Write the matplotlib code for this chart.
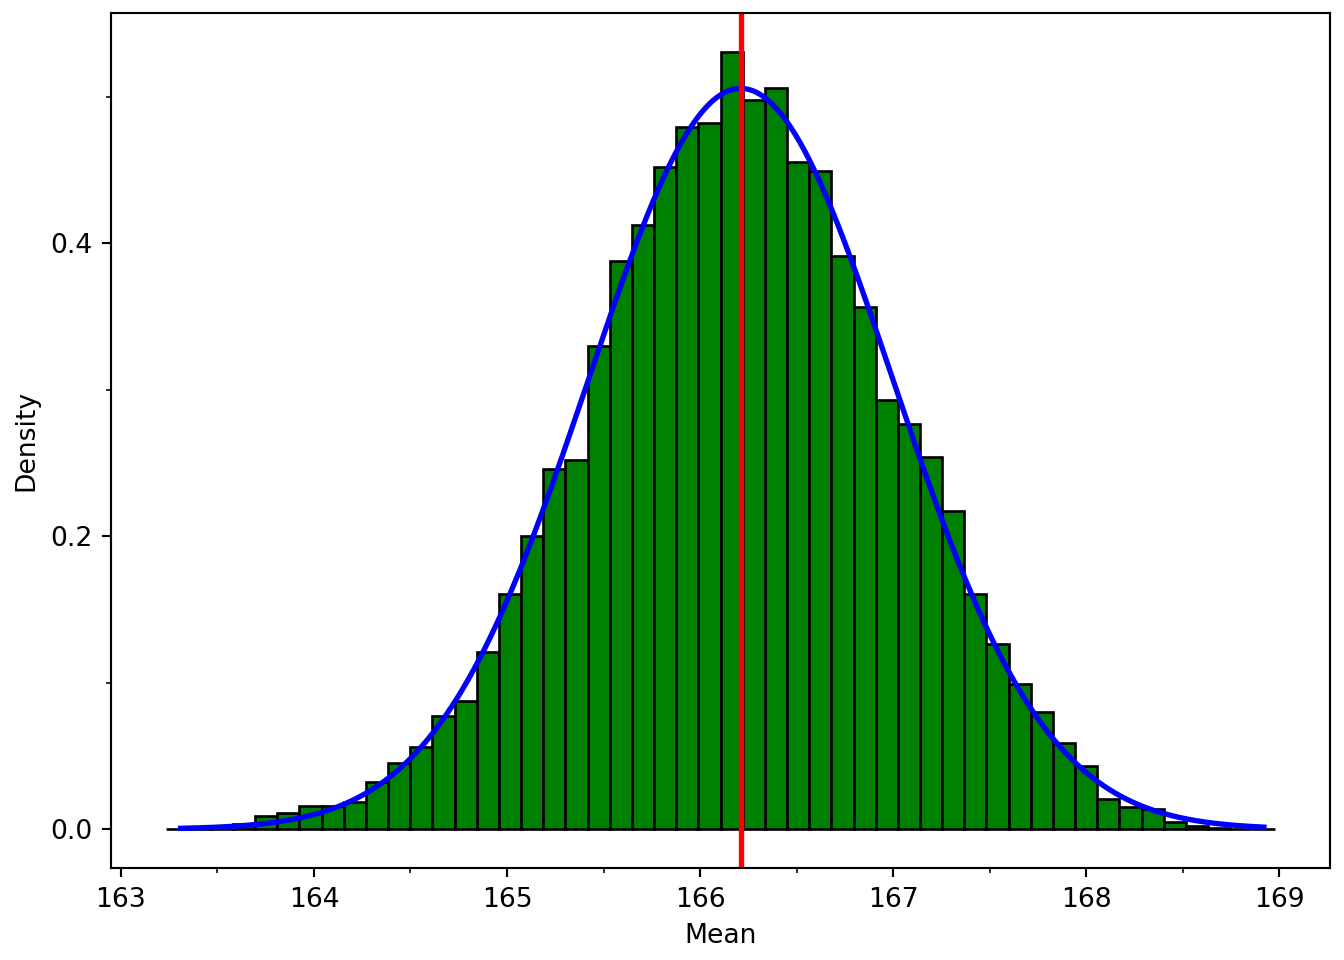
import numpy as np
import matplotlib
matplotlib.use("Agg")
import matplotlib.pyplot as plt
from matplotlib.ticker import MultipleLocator

# Histogram data (density per bin)
bin_min = 163.236
bin_max = 168.975
densities = [
    0.0, 0.0007, 0.0015, 0.0035, 0.009, 0.0107, 0.0157, 0.0157, 0.0185, 0.032,
    0.0449, 0.056, 0.0773, 0.0876, 0.1206, 0.1604, 0.2, 0.2460, 0.2519, 0.3295,
    0.3877, 0.4127, 0.452, 0.4794, 0.4817, 0.5306, 0.498, 0.506, 0.4555, 0.4494,
    0.3913, 0.3565, 0.2928, 0.2765, 0.2538, 0.2171, 0.1604, 0.1263, 0.0992, 0.0797,
    0.0587, 0.0432, 0.0207, 0.015, 0.0137, 0.0052, 0.0023, 0.0007, 0.0003, 0.0004,
]

# Normal fit parameters
mu = 166.21
sigma = 0.789
curve_min = 163.31
curve_max = 168.92

n_bins = len(densities)
edges = np.linspace(bin_min, bin_max, n_bins + 1)
centers = (edges[:-1] + edges[1:]) / 2

fig = plt.figure(figsize=(7, 5), dpi=192)
ax = fig.add_axes([0.0826, 0.0958, 0.9896 - 0.0826, 0.9865 - 0.0958])

ax.hist(centers, bins=edges, weights=densities, color="green",
        edgecolor="black", linewidth=1.0)

xs = np.linspace(curve_min, curve_max, 400)
ys = np.exp(-0.5 * ((xs - mu) / sigma) ** 2) / (sigma * np.sqrt(2 * np.pi))
ax.plot(xs, ys, color="blue", linewidth=2)

ax.axvline(mu, color="red", linewidth=2)

ymax = max(densities)
ax.set_ylim(-0.05 * ymax, 1.05 * ymax)

ax.xaxis.set_major_locator(MultipleLocator(1))
ax.xaxis.set_minor_locator(MultipleLocator(0.5))
ax.yaxis.set_major_locator(MultipleLocator(0.2))
ax.yaxis.set_minor_locator(MultipleLocator(0.1))

ax.set_xlabel("Mean")
ax.set_ylabel("Density")

fig.savefig("out.png", dpi=192)
